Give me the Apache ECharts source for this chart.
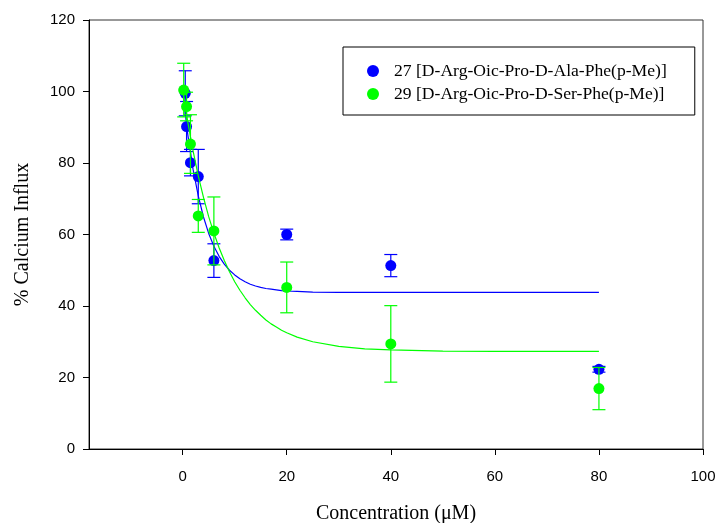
<!DOCTYPE html>
<html><head><meta charset="utf-8">
<script src="https://cdn.jsdelivr.net/npm/echarts@6/dist/echarts.min.js"></script>
<style>html,body{margin:0;padding:0;background:#fff}#c{width:717px;height:523px}</style>
</head><body><div id="c"></div>
<script>
// Series 27 [D-Arg-Oic-Pro-D-Ala-Phe(p-Me)] (blue)
const blueX   = [0.5, 0.75, 1.5, 3, 6, 20, 40, 80];
const blueY   = [99.5, 90.2, 80.1, 76.2, 52.7, 60.0, 51.3, 22.3];
const blueErr = [6.3, 7.0, 3.7, 7.6, 4.7, 1.5, 3.1, 0.8];
// Series 29 [D-Arg-Oic-Pro-D-Ser-Phe(p-Me)] (green)
const greenX   = [0.2, 0.75, 1.5, 3, 6, 20, 40, 80];
const greenY   = [100.4, 95.8, 85.3, 65.2, 61.0, 45.2, 29.4, 16.9];
const greenErr = [7.5, 4.0, 8.2, 4.6, 9.5, 7.1, 10.7, 5.9];
// Fitted curves, values
const curveX     = [0, 1, 2, 3, 4, 5, 6, 7, 8, 9, 10, 11, 12, 13, 14, 15, 16, 17, 18, 19, 20, 22, 25, 30, 35, 40, 50, 60, 70, 80];
const blueCurve  = [100.0, 87.8, 78.2, 70.8, 64.9, 60.3, 56.7, 53.9, 51.7, 50.0, 48.7, 47.6, 46.8, 46.1, 45.6, 45.2, 44.9, 44.7, 44.5, 44.3, 44.2, 44.1, 43.9, 43.8, 43.8, 43.8, 43.8, 43.8, 43.8, 43.8];
const greenCurve = [100.3, 91.3, 83.4, 76.4, 70.4, 65.0, 60.4, 56.3, 52.7, 49.6, 46.8, 44.4, 42.3, 40.4, 38.8, 37.4, 36.1, 35.0, 34.1, 33.2, 32.5, 31.3, 30.0, 28.7, 28.0, 27.7, 27.4, 27.3, 27.3, 27.3];
const xTicks = [0, 20, 40, 60, 80, 100];
const yTicks = [0, 20, 40, 60, 80, 100, 120];
const names = ['27 [D-Arg-Oic-Pro-D-Ala-Phe(p-Me)]', '29 [D-Arg-Oic-Pro-D-Ser-Phe(p-Me)]'];

const BLUE = '#0000ff', GREEN = '#00ff00';
const zip = (xs, ys) => xs.map((x, i) => [x, ys[i]]);
const errData = (xs, ys, es) => xs.map((x, i) => [x, ys[i] - es[i], ys[i] + es[i]]);
function errRender(color) {
  return function (params, api) {
    const x = api.value(0);
    const lo = api.coord([x, api.value(1)]);
    const hi = api.coord([x, api.value(2)]);
    const hw = 6.5;
    const st = { stroke: color, lineWidth: 1.2 };
    return { type: 'group', children: [
      { type: 'line', shape: { x1: lo[0], y1: lo[1], x2: hi[0], y2: hi[1] }, style: st },
      { type: 'line', shape: { x1: lo[0] - hw, y1: lo[1], x2: lo[0] + hw, y2: lo[1] }, style: st },
      { type: 'line', shape: { x1: hi[0] - hw, y1: hi[1], x2: hi[0] + hw, y2: hi[1] }, style: st }
    ]};
  };
}
const chart = echarts.init(document.getElementById('c'), null, { renderer: 'canvas' });
chart.setOption({
  animation: false,
  backgroundColor: '#fff',
  grid: { left: 89, top: 20, right: 14, bottom: 74, outerBoundsMode: 'none', containLabel: false, show: true, borderColor: '#333', borderWidth: 1, backgroundColor: 'transparent' },
  legend: {
    orient: 'vertical', left: 343, top: 47,
    padding: [15, 28, 12, 24],
    borderColor: '#000', borderWidth: 1,
    itemWidth: 32, itemHeight: 12, itemGap: 5,
    textStyle: { fontFamily: 'Liberation Serif', fontSize: 17.6, lineHeight: 16, color: '#000' },
    data: [{ name: names[0], icon: 'circle' }, { name: names[1], icon: 'circle' }]
  },
  xAxis: {
    type: 'value', min: -18, max: 100,
    name: 'Concentration (\u03bcM)', nameLocation: 'middle', nameGap: 55,
    nameTextStyle: { fontFamily: 'Liberation Serif', fontSize: 20, color: '#000' },
    axisLine: { onZero: false, lineStyle: { color: '#000', width: 1 } },
    axisTick: { show: true, inside: false, length: 6, customValues: xTicks, lineStyle: { color: '#000' } },
    axisLabel: { customValues: xTicks, margin: 20, fontFamily: 'Liberation Sans', fontSize: 15, color: '#000' },
    splitLine: { show: false }
  },
  yAxis: {
    type: 'value', min: 0, max: 120, interval: 20,
    name: '% Calcium Influx', nameLocation: 'middle', nameGap: 56,
    nameTextStyle: { fontFamily: 'Liberation Serif', fontSize: 20, color: '#000' },
    axisLine: { show: true, onZero: false, lineStyle: { color: '#000', width: 1 } },
    axisTick: { show: true, inside: false, length: 6, customValues: yTicks, lineStyle: { color: '#000' } },
    axisLabel: { customValues: yTicks, margin: 14, fontFamily: 'Liberation Sans', fontSize: 15, color: '#000' },
    splitLine: { show: false }
  },
  series: [
    { name: 'blueFit', type: 'line', data: zip(curveX, blueCurve), showSymbol: false, lineStyle: { color: BLUE, width: 1.2 }, z: 2, silent: true },
    { name: 'blueErr', type: 'custom', data: errData(blueX, blueY, blueErr), renderItem: errRender(BLUE), z: 3, silent: true },
    { name: names[0], type: 'scatter', data: zip(blueX, blueY), symbol: 'circle', symbolSize: 11, itemStyle: { color: BLUE, opacity: 1 }, z: 4 },
    { name: 'greenFit', type: 'line', data: zip(curveX, greenCurve), showSymbol: false, lineStyle: { color: GREEN, width: 1.2 }, z: 5, silent: true },
    { name: 'greenErr', type: 'custom', data: errData(greenX, greenY, greenErr), renderItem: errRender(GREEN), z: 6, silent: true },
    { name: names[1], type: 'scatter', data: zip(greenX, greenY), symbol: 'circle', symbolSize: 11, itemStyle: { color: GREEN, opacity: 1 }, z: 7 }
  ]
});
</script></body></html>
